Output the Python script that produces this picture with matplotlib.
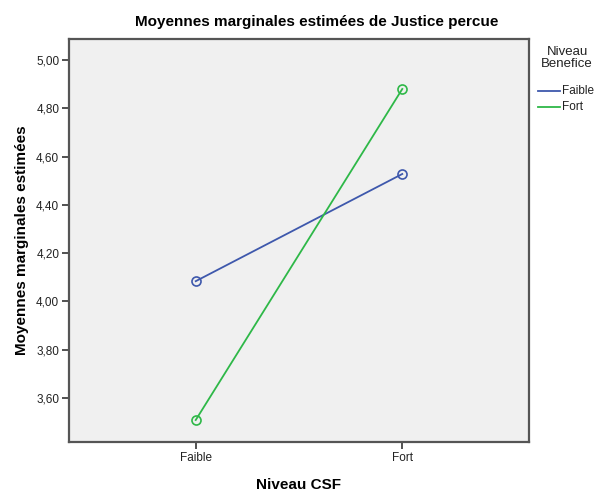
import matplotlib.pyplot as plt
from matplotlib.ticker import FuncFormatter

plt.rcParams['font.family'] = ['Liberation Sans', 'DejaVu Sans']

# Data
csf_levels = ['Faible', 'Fort']
benefice_levels = ['Faible', 'Fort']
means_faible = [4.084, 4.528]
means_fort = [3.509, 4.880]
y_ticks = [3.60, 3.80, 4.00, 4.20, 4.40, 4.60, 4.80, 5.00]

colors = ['#3E58AC', '#2EB848']

fig = plt.figure(figsize=(5.96, 4.94), dpi=100)
ax = fig.add_axes([69 / 596, 52 / 494, 460 / 596, 403 / 494])
ax.set_facecolor('#f0f0f0')

x = list(range(len(csf_levels)))
for vals, col in zip([means_faible, means_fort], colors):
    ax.plot(x, vals, color=col, lw=1.3, marker='o', ms=6.5,
            mfc='none', mec=col, mew=1.2)

ax.set_xlim(-0.6135, 1.6135)
ax.set_ylim(3.418, 5.087)
ax.set_xticks(x)
ax.set_xticklabels(csf_levels)
ax.set_yticks(y_ticks)
ax.yaxis.set_major_formatter(FuncFormatter(lambda v, p: f'{v:.2f}'.replace('.', ',')))
ax.tick_params(labelsize=8.5, length=5, width=1.2, color='#333333', labelcolor='#222222', pad=2)

for s in ax.spines.values():
    s.set_color('#555555')
    s.set_linewidth(1.6)

ax.set_xlabel('Niveau CSF', fontsize=11, fontweight='bold', labelpad=10)
ax.set_ylabel('Moyennes marginales estimées', fontsize=11, fontweight='bold', labelpad=5)

fig.text(317 / 596, 1 - 22 / 494, 'Moyennes marginales estimées de Justice percue',
         ha='center', va='center', fontsize=11, fontweight='bold')

# legend drawn by hand to mimic SPSS layout
fig.text(567 / 596, 1 - 58 / 494, 'Niveau\nBenefice', ha='center', va='center',
         fontsize=9.5, color='#222222', linespacing=1.0)
for i, (lab, col) in enumerate(zip(benefice_levels, colors)):
    yy = 1 - (91 + 16 * i) / 494
    fig.add_artist(plt.Line2D([538 / 596, 560 / 596], [yy, yy], color=col, lw=1.3,
                              transform=fig.transFigure))
    fig.text(562 / 596, yy, lab, ha='left', va='center', fontsize=8.5, color='#222222')

fig.savefig('out.png', dpi=100)
